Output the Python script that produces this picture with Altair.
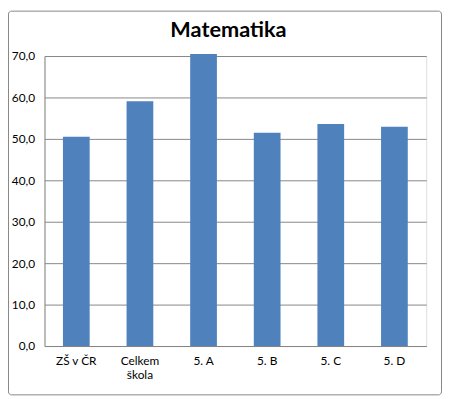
import altair as alt
import pandas as pd

categories = ["ZŠ v ČR", "Celkem škola", "5. A", "5. B", "5. C", "5. D"]
values = [50.5, 59.1, 70.5, 51.5, 53.6, 52.9]
y_ticks = [0, 10, 20, 30, 40, 50, 60, 70]
title_text = "Matematika"

df = pd.DataFrame({"kategorie": categories, "hodnota": values})

FONT = "Lato"
GRID = "#868686"

bars = alt.Chart(df).mark_bar(color="#4F81BD").encode(
    x=alt.X(
        "kategorie:N",
        sort=categories,
        title=None,
        scale=alt.Scale(paddingInner=0.58, paddingOuter=0.29),
        axis=alt.Axis(
            labelAngle=0,
            labelFont=FONT,
            labelFontSize=12,
            labelColor="#000000",
            labelPadding=10,
            labelLineHeight=14,
            labelExpr="length(datum.label) > 8 ? split(datum.label, ' ') : datum.label",
            ticks=False,
            domainColor=GRID,
            domainWidth=1,
        ),
    ),
    y=alt.Y(
        "hodnota:Q",
        title=None,
        scale=alt.Scale(domain=[0, 70], nice=False),
        axis=alt.Axis(
            values=y_ticks,
            labelExpr="replace(format(datum.value, '.1f'), '.', ',')",
            labelFont=FONT,
            labelFontSize=12,
            labelColor="#000000",
            labelPadding=10,
            ticks=False,
            grid=True,
            gridColor=GRID,
            gridWidth=1,
            domainColor=GRID,
            domainWidth=1,
        ),
    ),
)

one = pd.DataFrame({"t": [title_text]})

border = alt.Chart(one).mark_rect(
    fill=None, stroke=GRID, strokeWidth=1, cornerRadius=3
).encode(
    x=alt.value(-36.5), x2=alt.value(402.5), y=alt.value(-45.5), y2=alt.value(343.5)
)

title = alt.Chart(one).mark_text(
    font=FONT, fontSize=22, fontWeight="bold", color="#000000",
    align="center", baseline="alphabetic"
).encode(
    text="t:N", x=alt.value(186.5), y=alt.value(-19)
)

chart = alt.layer(bars, border, title).properties(
    width=387,
    height=294,
    padding={"left": 37, "right": 16, "top": 46, "bottom": 50},
    autosize=alt.AutoSizeParams(type="none"),
).configure_view(stroke=None).configure(background="#ffffff")

chart.save("out.html", embed_options={"renderer": "svg", "actions": False})
